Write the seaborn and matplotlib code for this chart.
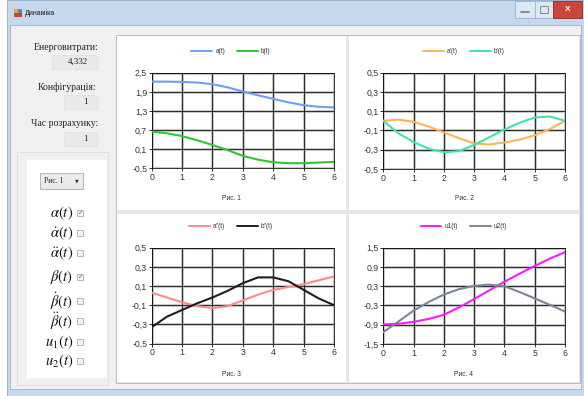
import numpy as np
import pandas as pd
import matplotlib
matplotlib.use('Agg')
import matplotlib.pyplot as plt
from matplotlib.patches import Rectangle
import seaborn as sns

# ---- values ----
t = [0, 0.5, 1, 1.5, 2, 2.5, 3, 3.5, 4, 4.5, 5, 5.5, 6]

a_t = [2.22, 2.22, 2.21, 2.19, 2.14, 2.04, 1.91, 1.79, 1.68, 1.57, 1.48, 1.43, 1.41]
b_t = [0.65, 0.60, 0.51, 0.38, 0.23, 0.07, -0.11, -0.23, -0.31, -0.34, -0.34, -0.32, -0.30]

da_t = [0.00, 0.013, -0.01, -0.06, -0.12, -0.18, -0.235, -0.245, -0.225, -0.195, -0.15, -0.085, 0.00]
db_t = [0.00, -0.13, -0.22, -0.29, -0.325, -0.315, -0.25, -0.17, -0.09, -0.02, 0.035, 0.045, 0.00]

dda_t = [0.03, -0.02, -0.07, -0.11, -0.13, -0.11, -0.05, 0.01, 0.06, 0.09, 0.12, 0.16, 0.20]
ddb_t = [-0.33, -0.22, -0.15, -0.08, -0.02, 0.05, 0.13, 0.19, 0.19, 0.15, 0.06, -0.03, -0.10]

u1_t = [-0.89, -0.87, -0.81, -0.72, -0.59, -0.36, -0.10, 0.17, 0.44, 0.69, 0.93, 1.16, 1.36]
u2_t = [-1.13, -0.80, -0.46, -0.19, 0.04, 0.21, 0.31, 0.35, 0.30, 0.12, -0.08, -0.28, -0.49]

yticks_1 = [-0.5, 0.1, 0.7, 1.3, 1.9, 2.5]
yticks_2 = [-0.5, -0.3, -0.1, 0.1, 0.3, 0.5]
yticks_3 = [-0.5, -0.3, -0.1, 0.1, 0.3, 0.5]
yticks_4 = [-1.5, -0.9, -0.3, 0.3, 0.9, 1.5]
xticks = [0, 1, 2, 3, 4, 5, 6]

energy = '4,332'
config = '1'
calc_time = '1'

W, H = 584, 396

sns.set_style('white')
plt.rcParams['font.family'] = ['Liberation Sans', 'DejaVu Sans']
plt.rcParams['mathtext.fontset'] = 'stix'

fig = plt.figure(figsize=(W / 100, H / 100), dpi=100)
fig.patch.set_facecolor('white')

# background "window" drawn in pixel coords
bg = fig.add_axes([0, 0, 1, 1])
bg.axis('off')

def rect(x0, y0, x1, y1, **kw):
    bg.add_patch(Rectangle((x0, y0), x1 - x0, y1 - y0, **kw))

rect(7, 0, 584, 396, fc='#c5d8ee', ec='#8fa9c8', lw=0.6)
grad = np.linspace(0, 1, 30).reshape(-1, 1)
bg.imshow(grad, extent=(8, 584, 25, 0), cmap=matplotlib.colors.LinearSegmentedColormap.from_list(
    'tb', ['#e3edf8', '#c3d7ee']), aspect='auto', zorder=0)
rect(10, 25, 581, 389, fc='#f0f0f0', ec='#9db3cc', lw=0.6)

# title bar
rect(14, 9, 18, 13, fc='#e8a040', ec='none')
rect(18, 9, 22, 13, fc='#4a8ad0', ec='none')
rect(14, 13, 22, 17, fc='#d04030', ec='none')
bg.text(25, 13, 'Динаміка', fontsize=5, va='center', ha='left', color='#1a1a1a')
rect(515, 1, 535, 18, fc='#dde8f5', ec='#9fb4cf', lw=0.6)
rect(535, 1, 553, 18, fc='#dde8f5', ec='#9fb4cf', lw=0.6)
rect(553, 1, 582, 18, fc='#c9473a', ec='#8a2e26', lw=0.6)
bg.plot([521, 529], [12, 12], color='#777', lw=1.2)
rect(540, 6, 548, 13, fc='none', ec='#888', lw=0.7)
bg.text(567.5, 9.5, 'X', fontsize=6, color='white', ha='center', va='center', fontweight='bold')

# left info block
serif = ['Liberation Serif', 'DejaVu Serif']
bg.text(66, 47, 'Енерговитрати:', fontsize=7, family=serif, ha='center', va='center', color='#222')
rect(52, 55, 97, 69, fc='#e9e9e9', ec='#e2e2e2', lw=0.6)
bg.text(78, 62, energy, fontsize=6.5, family=serif, ha='center', va='center', color='#222')
bg.text(67, 87, 'Конфігурація:', fontsize=7, family=serif, ha='center', va='center', color='#222')
rect(64, 95, 97, 109, fc='#e9e9e9', ec='#e2e2e2', lw=0.6)
bg.text(85, 102, config, fontsize=6.5, family=serif, ha='center', va='center', color='#222')
bg.text(65, 124, 'Час розрахунку:', fontsize=7, family=serif, ha='center', va='center', color='#222')
rect(64, 132, 97, 146, fc='#e9e9e9', ec='#e2e2e2', lw=0.6)
bg.text(85, 139, calc_time, fontsize=6.5, family=serif, ha='center', va='center', color='#222')

rect(17, 152, 108, 385, fc='#f0f0f0', ec='#dedede', lw=0.6)
rect(27, 160, 107, 378, fc='white', ec='none')
rect(40, 173, 83, 189, fc='#ebebeb', ec='#a9a9a9', lw=0.6)
bg.text(44, 181, 'Рис. 1', fontsize=5.5, family=serif, ha='left', va='center', color='#222')
bg.text(77, 181, '▼', fontsize=3.5, family='DejaVu Sans', ha='center', va='center', color='#333')

checks = [(r'$\alpha(t)$', 213, True), (r'$\dot{\alpha}(t)$', 233, False),
          (r'$\ddot{\alpha}(t)$', 253, False), (r'$\beta(t)$', 277, True),
          (r'$\dot{\beta}(t)$', 301, False), (r'$\ddot{\beta}(t)$', 321, False),
          (r'$u_1(t)$', 342, False), (r'$u_2(t)$', 361, False)]
for lab, yy, on in checks:
    bg.text(73, yy, lab, fontsize=10.5, ha='right', va='center', color='#111')
    rect(77, yy - 3, 83, yy + 3, fc='#f3f3f3', ec='#a0a0a0', lw=0.5)
    if on:
        bg.text(80, yy, '✓', fontsize=4.5, family='DejaVu Sans', ha='center', va='center', color='#2d4f9e')

# chart container
rect(116, 35, 580, 383, fc='#e7e7e7', ec='#b5b5b5', lw=0.6)
for x0, y0, x1, y1 in [(117, 36, 346, 210), (349, 36, 579, 210),
                       (117, 214, 346, 382), (349, 214, 579, 382)]:
    rect(x0, y0, x1, y1, fc='white', ec='none')

bg.set_xlim(0, W)
bg.set_ylim(H, 0)

charts = [
    dict(s=[("a(t)", a_t), ("b(t)", b_t)], c=['#6f9ff0', '#2ec72e'], yt=yticks_1,
         box=(151.7, 72.7, 334, 168.3), cx=231, ly=51.7, cap='Рис. 1', cy=199),
    dict(s=[("a'(t)", da_t), ("b'(t)", db_t)], c=['#fbb556', '#3fe6a6'], yt=yticks_2,
         box=(383.3, 72.7, 565, 169), cx=464, ly=51.7, cap='Рис. 2', cy=199),
    dict(s=[("a''(t)", dda_t), ("b''(t)", ddb_t)], c=['#fb8a8a', '#1e1e1e'], yt=yticks_3,
         box=(151.7, 247.7, 334, 343.5), cx=231, ly=227, cap='Рис. 3', cy=374),
    dict(s=[("u1(t)", u1_t), ("u2(t)", u2_t)], c=['#ff19ff', '#7b8797'], yt=yticks_4,
         box=(383.3, 247.7, 565, 344), cx=464, ly=227, cap='Рис. 4', cy=374),
]

for ch in charts:
    x0, y0, x1, y1 = ch['box']
    ax = fig.add_axes([x0 / W, 1 - y1 / H, (x1 - x0) / W, (y1 - y0) / H])
    df = pd.concat([pd.DataFrame({'t': t, 'v': v, 'series': name}) for name, v in ch['s']])
    names = [n for n, _ in ch['s']]
    sns.lineplot(data=df, x='t', y='v', hue='series', hue_order=names,
                 palette=dict(zip(names, ch['c'])), linewidth=1.5, ax=ax, zorder=3)
    yt = ch['yt']
    ax.set_xlim(xticks[0], xticks[-1])
    ax.set_ylim(yt[0], yt[-1])
    for xv in xticks:
        ax.axvline(xv, color='#c8c8c8', lw=2.2, zorder=1)
        ax.axvline(xv, color='#111', lw=0.6, zorder=2)
    for yv in yt:
        ax.axhline(yv, color='#c8c8c8', lw=2.2, zorder=1)
        ax.axhline(yv, color='#111', lw=0.6, zorder=2)
    ax.set_xticks(xticks)
    ax.set_xticklabels([str(v) for v in xticks])
    ax.set_yticks(yt)
    ax.set_yticklabels([f'{v:.1f}'.replace('.', ',') for v in yt])
    ax.tick_params(labelsize=6.3, colors='#111', labelcolor='#333', length=2.5, width=0.6,
                   pad=0.8, left=True, bottom=True)
    for sp in ax.spines.values():
        sp.set_color('#111')
        sp.set_linewidth(0.6)
    ax.set_xlabel('')
    ax.set_ylabel('')
    ax.set_facecolor('white')
    h, l = ax.get_legend_handles_labels()
    for hh in h:
        hh.set_linewidth(1.4)
    ax.legend(h, l, loc='center', bbox_to_anchor=(ch['cx'], ch['ly']), bbox_transform=bg.transData,
              ncol=2, frameon=False, fontsize=4.7, handlelength=3.2, handletextpad=0.5,
              columnspacing=1.8, labelcolor='#333')
    bg.text(ch['cx'], ch['cy'], ch['cap'], fontsize=4.8, ha='center', va='center', color='#333')

fig.savefig('out.png', dpi=100, facecolor=fig.get_facecolor())
